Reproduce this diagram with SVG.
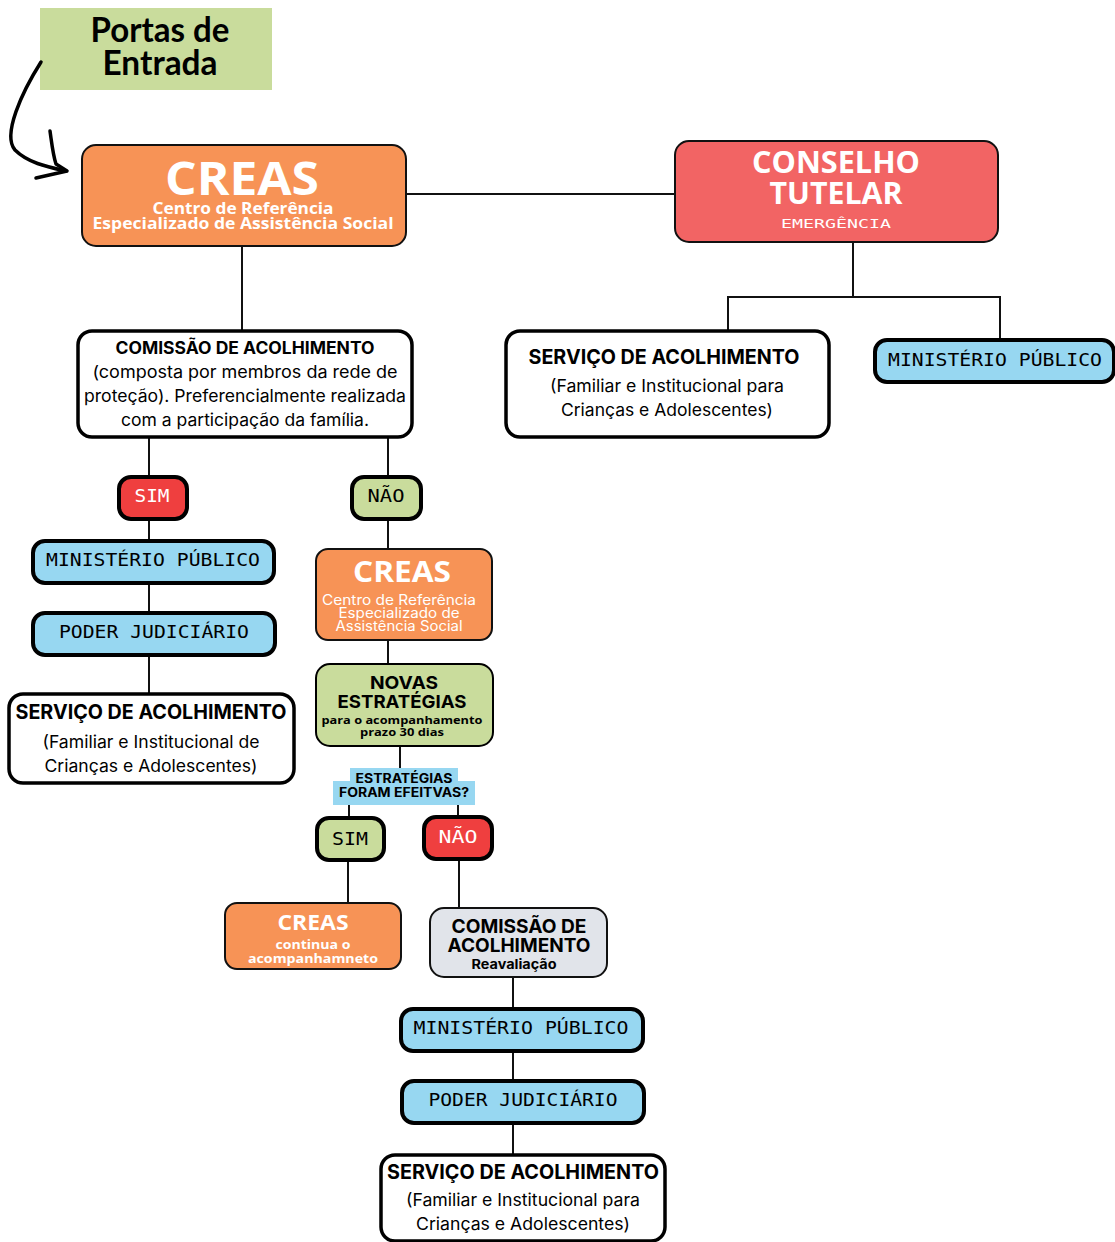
<svg xmlns="http://www.w3.org/2000/svg" width="1115" height="1242" viewBox="0 0 1115 1242">
<style>
.conn{stroke:#111;stroke-width:2;fill:none}
.or{fill:#f79356;stroke:#111;stroke-width:2}
.ct{fill:#f26464;stroke:#111;stroke-width:2}
.wh{fill:#fff;stroke:#000;stroke-width:3.5}
.bl{fill:#97d7f1;stroke:#000;stroke-width:4}
.gr{fill:#c9dc9c;stroke:#000;stroke-width:4}
.rd{fill:#ef3f3f;stroke:#000;stroke-width:4}
.gy{fill:#e1e4ea;stroke:#111;stroke-width:2}
text{text-anchor:middle}
.b{font-family:"Open Sans","Liberation Sans",sans-serif;font-weight:700}
.s{font-family:Inter,"Liberation Sans",sans-serif}
.sb{font-family:Inter,"Liberation Sans",sans-serif;font-weight:700}
.m{font-family:"DejaVu Sans Mono","Liberation Mono",monospace}
.w{fill:#fff}
.k{fill:#000}
</style>

<g id="portas">
<rect x="40" y="8" width="232" height="82" fill="#c9dc9c"/>
<text class="k" x="160" y="42" font-family="Lato,'Liberation Sans',sans-serif" font-weight="700" font-size="34" textLength="139" lengthAdjust="spacingAndGlyphs">Portas de</text>
<text class="k" x="160" y="75" font-family="Lato,'Liberation Sans',sans-serif" font-weight="700" font-size="34" textLength="115" lengthAdjust="spacingAndGlyphs">Entrada</text>
</g>

<g id="connectors">
<path d="M41,62 C22,92 2,135 15,150 C28,163 48,167 66,171" stroke="#000" stroke-width="3.5" fill="none" stroke-linecap="round"/>
<path d="M50,131 C52,145 53,155 56,164 L67,171 L36,178" stroke="#000" stroke-width="3.5" fill="none" stroke-linecap="round" stroke-linejoin="round"/>
<path class="conn" d="M406,194 H675"/>
<path class="conn" d="M853,242 V297 M728,297 H1000 M728,296 V331 M1000,296 V340"/>
<path class="conn" d="M242,246 V331"/>
<path class="conn" d="M149,437 V477 M388,437 V477"/>
<path class="conn" d="M149,519 V541 M149,583 V613 M149,655 V694"/>
<path class="conn" d="M388,519 V549 M388,640 V664 M400,746 V770"/>
<path class="conn" d="M349,805 V818 M458,805 V817"/>
<path class="conn" d="M348,860 V903 M459,859 V908"/>
<path class="conn" d="M513,977 V1009 M513,1051 V1081 M513,1123 V1155"/>
</g>

<g id="creas-top">
<rect class="or" x="82" y="145" width="324" height="101" rx="14"/>
<text class="b w" x="242" y="195" font-size="46" textLength="154" lengthAdjust="spacingAndGlyphs">CREAS</text>
<text class="b w" x="243" y="214" font-size="16" textLength="181" lengthAdjust="spacingAndGlyphs">Centro de Referência</text>
<text class="b w" x="243" y="229" font-size="16" textLength="301" lengthAdjust="spacingAndGlyphs">Especializado de Assistência Social</text>
</g>

<g id="conselho">
<rect class="ct" x="675" y="141" width="323" height="101" rx="14"/>
<text class="b w" x="836" y="173" font-size="31" textLength="168" lengthAdjust="spacingAndGlyphs">CONSELHO</text>
<text class="b w" x="836" y="204" font-size="31" textLength="133" lengthAdjust="spacingAndGlyphs">TUTELAR</text>
<text class="m w" x="836" y="228" font-size="13" textLength="110" lengthAdjust="spacingAndGlyphs">EMERGÊNCIA</text>
</g>

<g id="servico-ct">
<rect class="wh" x="506" y="331" width="323" height="106" rx="14"/>
<text class="sb k" x="664" y="364" font-size="20" textLength="271" lengthAdjust="spacingAndGlyphs">SERVIÇO DE ACOLHIMENTO</text>
<text class="s k" x="667" y="392" font-size="17" textLength="234" lengthAdjust="spacingAndGlyphs">(Familiar e Institucional para</text>
<text class="s k" x="667" y="416" font-size="17" textLength="212" lengthAdjust="spacingAndGlyphs">Crianças e Adolescentes)</text>
</g>

<g id="mp-ct">
<rect class="bl" x="875" y="340" width="239" height="42" rx="12"/>
<text class="m k" x="995" y="366" font-size="17" textLength="214" lengthAdjust="spacingAndGlyphs">MINISTÉRIO PÚBLICO</text>
</g>

<g id="comissao">
<rect class="wh" x="78" y="331" width="334" height="106" rx="14"/>
<text class="sb k" x="245" y="354" font-size="17" textLength="259" lengthAdjust="spacingAndGlyphs">COMISSÃO DE ACOLHIMENTO</text>
<text class="s k" x="245" y="378" font-size="17" textLength="305" lengthAdjust="spacingAndGlyphs">(composta por membros da rede de</text>
<text class="s k" x="245" y="402" font-size="17" textLength="322" lengthAdjust="spacingAndGlyphs">proteção). Preferencialmente realizada</text>
<text class="s k" x="245" y="426" font-size="17" textLength="248" lengthAdjust="spacingAndGlyphs">com a participação da família.</text>
</g>

<g id="sim1">
<rect class="rd" x="119" y="477" width="68" height="42" rx="12"/>
<text class="m w" x="152" y="502" font-size="17" textLength="35" lengthAdjust="spacingAndGlyphs">SIM</text>
</g>

<g id="nao1">
<rect class="gr" x="352" y="477" width="69" height="42" rx="12"/>
<text class="m k" x="386" y="502" font-size="17" textLength="37" lengthAdjust="spacingAndGlyphs">NÃO</text>
</g>

<g id="mp1">
<rect class="bl" x="33" y="541" width="241" height="42" rx="12"/>
<text class="m k" x="153" y="566" font-size="17" textLength="214" lengthAdjust="spacingAndGlyphs">MINISTÉRIO PÚBLICO</text>
</g>

<g id="pj1">
<rect class="bl" x="33" y="613" width="242" height="42" rx="12"/>
<text class="m k" x="154" y="638" font-size="17" textLength="190" lengthAdjust="spacingAndGlyphs">PODER JUDICIÁRIO</text>
</g>

<g id="servico1">
<rect class="wh" x="9" y="694" width="285" height="89" rx="14"/>
<text class="sb k" x="151" y="719" font-size="20" textLength="271" lengthAdjust="spacingAndGlyphs">SERVIÇO DE ACOLHIMENTO</text>
<text class="s k" x="151" y="748" font-size="17" textLength="217" lengthAdjust="spacingAndGlyphs">(Familiar e Institucional de</text>
<text class="s k" x="151" y="772" font-size="17" textLength="213" lengthAdjust="spacingAndGlyphs">Crianças e Adolescentes)</text>
</g>

<g id="creas-mid">
<rect class="or" x="316" y="549" width="176" height="91" rx="12"/>
<text class="b w" x="402" y="582" font-size="28" textLength="98" lengthAdjust="spacingAndGlyphs">CREAS</text>
<text class="s w" x="399" y="605" font-size="14" textLength="154" lengthAdjust="spacingAndGlyphs">Centro de Referência</text>
<text class="s w" x="399" y="618" font-size="14" textLength="121" lengthAdjust="spacingAndGlyphs">Especializado de</text>
<text class="s w" x="399" y="631" font-size="14" textLength="127" lengthAdjust="spacingAndGlyphs">Assistência Social</text>
</g>

<g id="novas">
<rect class="gr" x="316" y="664" width="177" height="82" rx="14" style="stroke-width:2"/>
<text class="sb k" x="404" y="689" font-size="18" textLength="68" lengthAdjust="spacingAndGlyphs">NOVAS</text>
<text class="sb k" x="402" y="708" font-size="18" textLength="129" lengthAdjust="spacingAndGlyphs">ESTRATÉGIAS</text>
<text class="b k" x="402" y="724" font-size="11" textLength="161" lengthAdjust="spacingAndGlyphs">para o acompanhamento</text>
<text class="b k" x="402" y="736" font-size="11" textLength="84" lengthAdjust="spacingAndGlyphs">prazo 30 dias</text>
</g>

<g id="pergunta">
<rect x="350" y="768" width="108" height="18" fill="#97d7f1"/>
<rect x="333" y="781" width="142" height="24" fill="#97d7f1"/>
<text class="sb k" x="404" y="783" font-size="13" textLength="97" lengthAdjust="spacingAndGlyphs">ESTRATÉGIAS</text>
<text class="sb k" x="404" y="797" font-size="13" textLength="130" lengthAdjust="spacingAndGlyphs">FORAM EFEITVAS?</text>
</g>

<g id="sim2">
<rect class="gr" x="317" y="818" width="67" height="42" rx="12"/>
<text class="m k" x="350" y="845" font-size="17" textLength="36" lengthAdjust="spacingAndGlyphs">SIM</text>
</g>

<g id="nao2">
<rect class="rd" x="424" y="817" width="68" height="42" rx="12"/>
<text class="m w" x="458" y="843" font-size="17" textLength="39" lengthAdjust="spacingAndGlyphs">NÃO</text>
</g>

<g id="creas-bottom">
<rect class="or" x="225" y="903" width="176" height="66" rx="12"/>
<text class="b w" x="313" y="930" font-size="21" textLength="71" lengthAdjust="spacingAndGlyphs">CREAS</text>
<text class="b w" x="313" y="949" font-size="13" textLength="75" lengthAdjust="spacingAndGlyphs">continua o</text>
<text class="b w" x="313" y="963" font-size="13" textLength="130" lengthAdjust="spacingAndGlyphs">acompanhamneto</text>
</g>

<g id="comissao2">
<rect class="gy" x="430" y="908" width="177" height="69" rx="14"/>
<text class="sb k" x="519" y="933" font-size="19" textLength="135" lengthAdjust="spacingAndGlyphs">COMISSÃO DE</text>
<text class="sb k" x="519" y="952" font-size="19" textLength="143" lengthAdjust="spacingAndGlyphs">ACOLHIMENTO</text>
<text class="sb k" x="514" y="969" font-size="13" textLength="85" lengthAdjust="spacingAndGlyphs">Reavaliação</text>
</g>

<g id="mp2">
<rect class="bl" x="401" y="1009" width="242" height="42" rx="12"/>
<text class="m k" x="521" y="1034" font-size="17" textLength="215" lengthAdjust="spacingAndGlyphs">MINISTÉRIO PÚBLICO</text>
</g>

<g id="pj2">
<rect class="bl" x="402" y="1081" width="242" height="42" rx="12"/>
<text class="m k" x="523" y="1106" font-size="17" textLength="189" lengthAdjust="spacingAndGlyphs">PODER JUDICIÁRIO</text>
</g>

<g id="servico2">
<rect class="wh" x="381" y="1155" width="284" height="86" rx="14"/>
<text class="sb k" x="523" y="1179" font-size="20" textLength="272" lengthAdjust="spacingAndGlyphs">SERVIÇO DE ACOLHIMENTO</text>
<text class="s k" x="523" y="1206" font-size="17" textLength="234" lengthAdjust="spacingAndGlyphs">(Familiar e Institucional para</text>
<text class="s k" x="523" y="1230" font-size="17" textLength="214" lengthAdjust="spacingAndGlyphs">Crianças e Adolescentes)</text>
</g>
</svg>
